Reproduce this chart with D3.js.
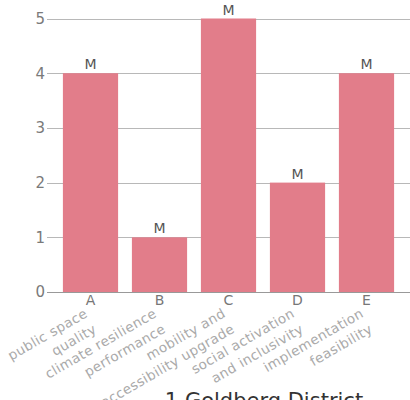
<!DOCTYPE html>
<html><head><meta charset="utf-8">
<script src="https://cdn.jsdelivr.net/npm/d3@7"></script>
<style>body{margin:0;background:#fff;overflow:hidden}svg{display:block}</style>
</head><body>
<script>
const categories = ["A","B","C","D","E"];
const criteria = [["public space","quality"],["climate resilience","performance"],["mobility and","accessibility upgrade"],["social activation","and inclusivity"],["implementation","feasibility"]];
const values = [4,1,5,2,4];
const barLabels = ["M","M","M","M","M"];
const yTicks = [0,1,2,3,4,5];
const title = "1 Goldberg District";

const W=410,H=400;
const font = "'DejaVu Sans', sans-serif";
const svg = d3.select("body").append("svg").attr("width",W).attr("height",H);
const x = d3.scaleBand().domain(categories).range([56,401]).paddingInner(0.2).paddingOuter(0.1);
const y = d3.scaleLinear().domain([0,5]).range([292,18.5]);

// grid
svg.append("g").selectAll("line").data(yTicks).join("line")
  .attr("x1",47).attr("x2",W).attr("y1",d=>Math.round(y(d))+0.5).attr("y2",d=>Math.round(y(d))+0.5)
  .attr("stroke",d=>d===0?"#999":"#b8b8b8").attr("stroke-width",1);
svg.append("g").selectAll("text").data(yTicks).join("text")
  .attr("x",45).attr("y",d=>y(d)).attr("dy","0.36em").attr("text-anchor","end")
  .attr("font-family",font).attr("font-size",15).attr("fill","#7a7a7a").text(d=>d);

// bars
svg.append("g").selectAll("rect").data(values).join("rect")
  .attr("x",(d,i)=>x(categories[i])).attr("width",x.bandwidth())
  .attr("y",d=>y(d)).attr("height",d=>y(0)-y(d)).attr("fill","#e27d8a");
svg.append("g").selectAll("text").data(values).join("text")
  .attr("x",(d,i)=>x(categories[i])+x.bandwidth()/2).attr("y",d=>y(d)-4)
  .attr("text-anchor","middle").attr("font-family",font).attr("font-size",14).attr("fill","#555")
  .text((d,i)=>barLabels[i]);

// category letters
svg.append("g").selectAll("text").data(categories).join("text")
  .attr("x",d=>x(d)+x.bandwidth()/2).attr("y",305).attr("text-anchor","middle")
  .attr("font-family",font).attr("font-size",14).attr("fill","#777").text(d=>d);

// rotated labels
const lg = svg.append("g").selectAll("g").data(categories).join("g")
  .attr("transform",d=>`translate(${x(d)+x.bandwidth()/2-9},304) rotate(-30)`);
lg.each(function(d,i){
  d3.select(this).selectAll("text").data(criteria[i]).join("text")
    .attr("x",0).attr("y",(t,j)=>14+j*18).attr("text-anchor","end")
    .attr("font-family",font).attr("font-size",13.5).attr("letter-spacing",0.4).attr("fill","#aaa").text(t=>t);
});

svg.append("text").attr("x",264).attr("y",408).attr("text-anchor","middle")
  .attr("font-family",font).attr("font-size",21).attr("fill","#333").text(title);
</script>
</body></html>
